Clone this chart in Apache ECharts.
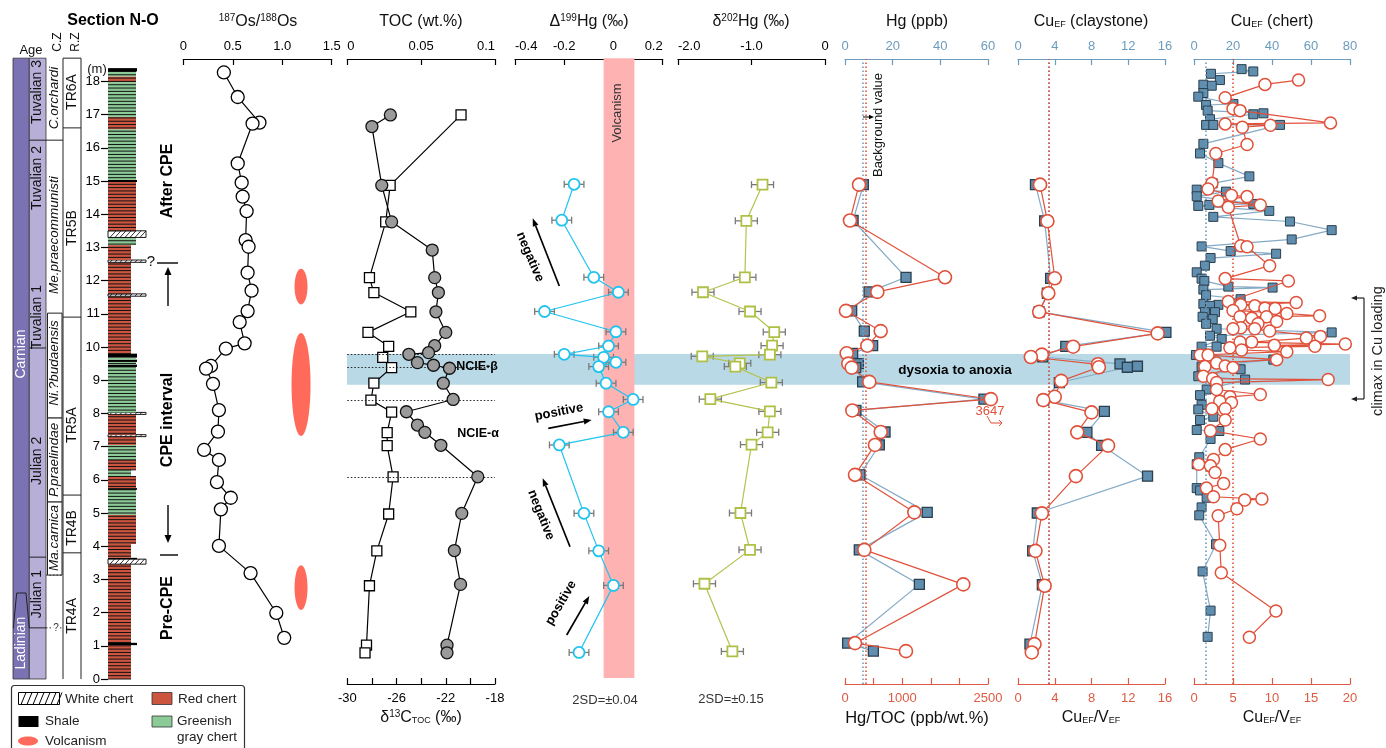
<!DOCTYPE html>
<html>
<head>
<meta charset="utf-8">
<title>Section N-O</title>
<script src="https://cdn.jsdelivr.net/npm/echarts@6/dist/echarts.min.js"></script>
<style>
html,body{margin:0;padding:0;background:#fff;}
#chart{width:1386px;height:748px;}
</style>
</head>
<body>
<div id="chart"></div>
<script>
// ================= DATA =================
// 187Os/188Os
const osDepth = [18.27,17.53,16.76,16.73,15.53,14.95,14.53,14.09,13.22,13.02,12.24,11.70,11.08,10.75,10.11,9.95,9.43,9.35,8.89,8.10,7.45,6.90,6.60,5.93,5.46,5.11,4.01,3.19,1.99,1.24];
const osRatio = [0.41,0.55,0.77,0.70,0.55,0.59,0.60,0.64,0.63,0.66,0.65,0.69,0.65,0.57,0.62,0.43,0.28,0.23,0.30,0.36,0.35,0.21,0.36,0.34,0.48,0.38,0.36,0.68,0.94,1.02];
// volcanism intervals (depth ranges, m) shown in Os panel
const volcanismBase = [11.28, 7.32, 2.08];
const volcanismTop  = [12.36, 10.42, 3.43];
const volcanismOsX  = 1.19;

// delta13C TOC (circles)
const c13Depth = [16.99,16.64,14.87,13.77,12.92,12.09,11.64,11.06,10.44,10.04,9.83,9.78,9.53,9.45,9.36,8.91,8.42,8.05,7.65,7.43,7.04,6.09,4.99,3.87,2.85,1.02,0.79];
const c13Value = [-26.5,-28.0,-27.2,-26.4,-23.1,-22.9,-22.6,-22.8,-22.0,-22.9,-23.4,-25.0,-24.3,-23.0,-21.7,-22.2,-21.4,-25.2,-24.3,-23.7,-22.4,-19.4,-20.7,-21.3,-20.8,-21.9,-21.9];
// TOC wt.% (squares)
const tocDepth = [16.99,14.87,13.77,12.09,11.64,11.06,10.44,10.02,9.69,9.38,8.91,8.40,8.04,7.42,7.03,6.09,4.97,3.86,2.81,1.02,0.79];
const tocValue = [0.077,0.029,0.026,0.015,0.018,0.043,0.014,0.028,0.024,0.030,0.018,0.016,0.030,0.027,0.027,0.031,0.028,0.020,0.015,0.013,0.012];
// NCIE boundaries (dotted lines)
const ncieLines = [9.79, 9.38, 8.40, 6.09];

// Delta199Hg
const d199Depth = [14.90,13.82,12.10,11.65,11.07,10.46,10.03,9.78,9.69,9.54,9.41,8.91,8.42,8.05,7.43,7.05,4.99,3.86,2.82,0.80];
const d199Value = [-0.16,-0.21,-0.08,0.02,-0.28,0.01,-0.02,-0.20,-0.04,0.01,-0.06,-0.03,0.08,-0.02,0.04,-0.22,-0.12,-0.06,0.00,-0.14];
const d199SD = 0.04;
const volcanicHgRange = [-0.04, 0.085];
// delta202Hg
const d202Depth = [14.89,13.80,12.10,11.65,11.07,10.45,10.04,9.77,9.72,9.51,9.41,8.93,8.43,8.06,7.43,7.06,5.00,3.89,2.87,0.83];
const d202Value = [-0.85,-1.07,-1.09,-1.66,-1.02,-0.69,-0.72,-0.75,-1.67,-1.16,-1.22,-0.73,-1.56,-0.75,-0.78,-1.00,-1.15,-1.02,-1.64,-1.26];
const d202SD = 0.15;

// Hg (ppb) and Hg/TOC
const hgDepth    = [14.89,13.81,12.10,11.66,11.09,10.48,10.04,9.81,9.50,9.38,8.95,8.43,8.09,7.44,7.05,6.15,5.02,3.89,2.85,1.08,0.84];
const hgValue    = [7.7,3.4,25.6,10.1,2.8,8.1,11.6,3.2,5.6,4.5,7.4,58.3,4.6,16.8,14.4,6.3,34.5,6.0,31.2,1.1,11.9];
const hgTocValue = [245,87,1748,565,17,624,390,29,58,117,425,3647,128,624,524,175,1212,338,2068,175,1066];
const hgBackground = 7.3, hgTocBackground = 355;
const hgTocBreak = 2550;   // axis break: values above plotted at the break

// Cu EF claystone
const cuClayDepth = [14.89,13.80,12.07,11.62,11.06,10.44,10.02,9.70,9.49,9.42,9.39,8.93,8.40,8.06,7.43,7.04,6.11,5.00,3.86,2.84,1.05];
const cuClayValue = [1.9,2.9,3.55,3.2,2.3,16.1,5.2,2.7,11.1,13.0,11.9,4.5,2.8,9.4,7.5,9.1,14.1,2.1,1.6,2.65,1.3];
const cuvClayDepth = [14.89,13.79,12.07,11.62,11.06,10.41,10.01,9.77,9.70,9.48,9.39,8.98,8.50,8.40,8.03,7.43,7.03,6.11,4.99,3.86,2.81,1.05,0.80];
const cuvClayValue = [2.4,3.2,4.0,3.3,2.3,15.2,6.0,2.6,1.4,8.7,8.8,4.7,4.0,2.75,8.0,6.45,9.8,6.3,2.6,1.9,2.9,1.8,1.5];
const cuClayBackground = 3.4, cuvClayBackground = 3.3;

// Cu EF chert
const cuChertDepth = [18.37,18.30,18.23,18.04,17.90,17.87,17.65,17.54,17.32,17.29,17.12,17.04,17.01,16.86,16.69,16.69,16.69,16.12,15.83,15.54,15.14,14.93,14.74,14.68,14.54,14.31,14.28,14.25,14.10,13.92,13.78,13.52,13.24,13.03,12.89,12.81,12.68,12.45,12.25,12.06,11.99,11.82,11.79,11.73,11.56,11.44,11.30,11.27,11.24,11.05,11.05,10.91,10.84,10.70,10.55,10.44,10.34,10.24,10.01,10.01,9.76,9.62,9.41,9.33,9.12,9.02,8.72,8.55,8.26,8.12,7.90,7.80,7.50,7.47,7.23,6.68,6.47,5.75,5.68,5.46,5.17,4.93,4.06,3.24,2.06,1.27];
const cuChertValue = [24.4,30.4,8.7,13.3,4.8,9.1,4.8,2.2,20.2,6.2,7.0,35.6,30.4,8.2,6.2,9.9,44.1,4.8,3.1,12.5,28.4,9.6,1.4,16.4,1.4,30.4,7.9,2.2,38.6,9.9,49.2,70.6,50.1,3.9,18.8,42.1,8.5,5.6,1.4,3.9,5.3,17.6,40.3,4.8,6.2,23.9,4.8,12.5,8.2,5.6,10.8,4.4,9.6,6.2,11.6,70.6,8.2,14.2,3.9,11.6,1.0,40.7,3.9,23.9,2.2,26.2,6.5,3.1,3.9,2.2,9.9,3.1,1.4,13.0,8.5,2.7,1.4,1.4,3.1,6.5,3.9,2.7,11.3,4.4,8.5,7.0];
const cuvChertDepth = [18.04,17.91,17.51,17.18,17.12,16.75,16.72,16.68,16.62,16.10,15.83,14.93,14.76,14.57,14.53,14.40,14.28,14.21,13.05,13.02,12.45,12.06,11.99,11.37,11.34,11.27,11.24,11.17,11.16,11.10,11.01,10.94,10.91,10.91,10.87,10.77,10.70,10.58,10.55,10.55,10.48,10.32,10.27,10.15,10.15,10.09,10.05,10.02,9.98,9.91,9.86,9.76,9.76,9.62,9.52,9.43,9.41,9.38,9.12,9.05,9.02,8.93,8.72,8.57,8.50,8.37,8.33,8.14,8.14,7.80,7.48,7.23,6.91,6.61,6.47,6.42,6.22,5.89,5.75,5.49,5.42,5.39,5.13,4.92,4.03,3.20,2.05,1.26];
const cuvChertValue = [13.4,9.1,4.0,5.0,5.9,17.5,4.0,9.8,6.2,6.8,2.8,2.3,1.8,4.8,6.8,3.1,8.5,4.4,6.0,6.8,9.7,4.0,12.1,4.4,13.1,6.0,7.8,9.1,10.4,5.0,11.9,16.1,5.9,9.3,7.4,10.6,8.2,6.0,5.0,7.8,9.7,16.2,14.4,7.4,5.9,19.4,10.3,15.5,4.6,6.1,11.9,0.8,1.8,10.6,2.9,4.0,1.4,5.0,1.2,2.4,17.2,2.9,2.9,8.5,4.6,3.3,4.8,4.0,2.3,4.0,2.1,8.5,4.0,2.5,0.6,2.1,2.7,3.8,1.6,2.5,8.7,6.5,5.5,3.1,3.3,3.5,10.5,7.1];
const cuChertBackground = 6.0, cuvChertBackground = 5.0;

// dysoxia-anoxia interval (m)
const anoxiaBand = [8.86, 9.79];

// Lithology (type, base m, top m). R/r red chert (wide/narrow), G/g greenish gray chert, S shale, W white chert
const lithType = ['r','S','r','r','W','S','r','R','G','S','R','g','R','G','R','W','R','W','G','S','G','S','G','S','r','W','r','W','r','G','W','R','S','G','R','G','R','G','S'];
const lithBase = [0,1.02,1.09,3.10,3.46,3.61,3.65,4.07,4.94,5.70,5.75,6.10,6.30,6.60,7.05,7.30,7.36,7.97,8.03,9.40,9.47,9.55,9.62,9.68,9.80,11.53,11.60,12.55,12.62,13.07,13.30,13.50,14.97,15.03,16.56,16.93,17.98,18.15,18.30];
const lithTop  = [1.02,1.09,3.10,3.46,3.61,3.65,4.07,4.94,5.70,5.75,6.10,6.30,6.60,7.05,7.30,7.36,7.97,8.03,9.40,9.47,9.55,9.62,9.68,9.80,11.53,11.60,12.55,12.62,13.07,13.30,13.50,14.97,15.03,16.56,16.93,17.98,18.15,18.30,18.40];
const sectionTop = 18.7;

// Biostratigraphy
const stageNames = ['Carnian','Ladinian'];
const stageMid = [9.79, 1.08];
const substageNames = ['Tuvalian 3','Tuvalian 2','Tuvalian 1','Julian 2','Julian 1'];
const substageMid = [17.68, 15.09, 10.9, 6.57, 2.56];
const substageBounds = [16.23, 9.97, 3.67, 1.54];
const conodontNames = ['C.orchardi','Me.praecommunisti','Ni.?budaensis','P.praelindae','Ma.carnica'];
const conodontMid = [17.5, 13.37, 9.52, 6.6, 4.25];
const conodontBoxBase = [7.86, 5.33, 3.13];
const conodontBoxTop = [11.02, 7.86, 5.33];
const conodontDotted = [3.13, 1.54];
const radiolarianNames = ['TR6A','TR5B','TR5A','TR4B','TR4A'];
const radiolarianMid = [17.68, 13.58, 7.65, 4.55, 1.9];
const radiolarianBounds = [16.6, 10.9, 5.54, 3.8];

// tick labels
const osTicks = ['0','0.5','1.0','1.5'];
const d13cTickLabels = [-30,-26,-22,-18];
const hgTocTickLabels = [0,1000,2500];
const depthTickLabels = [0,1,2,3,4,5,6,7,8,9,10,11,12,13,14,15,16,17,18];

// ================= STYLE / LAYOUT =================
const F = '"Liberation Sans", Arial, Helvetica, sans-serif';
const FN = '"Liberation Sans Narrow", "Liberation Sans", Arial, sans-serif';
const RED_CHERT = '#cc5540', GREEN_CHERT = '#8ccb98', DARK_P = '#7b72b3', LIGHT_P = '#b7afd7';
const BLUE_AX = '#6b9cbd', RED_AX = '#dd5a42';
const SQ_FILL = '#5f8eae', SQ_EDGE = '#2b3f4e', SQ_LINE = '#84aac6';
const RC = '#e0513a';
const GRID_TOP = 59, GRID_H = 625, Y_MIN = -0.15, Y_MAX = 18.675;
const COL_TOP = 81.4, COL_H = 597.6;

const panelGrids = [
  {left:183.3, width:148.4}, // 0 Os
  {left:347.3, width:147.7}, // 1 TOC
  {left:515,   width:147.7}, // 2 D199Hg
  {left:678,   width:147},   // 3 d202Hg
  {left:845,   width:143},   // 4 Hg
  {left:1018,  width:147},   // 5 Cu clay
  {left:1194,  width:156},   // 6 Cu chert
  {left:347,   width:1003}   // 7 band
];
const grid = panelGrids.map(g => ({left:g.left, width:g.width, top:GRID_TOP, height:GRID_H, containLabel:false}));
grid.push({left:13, width:68, top:COL_TOP, height:COL_H});   // 8 zones
grid.push({left:108, width:40, top:COL_TOP, height:COL_H});  // 9 lithology

function xAx(gi, pos, min, max, interval, color, fmt, alignMin, alignMax) {
  const lab = {show:true, color, fontSize:13, fontFamily:F, margin:pos==='top'?6:8, formatter:fmt};
  if (alignMin) lab.alignMinLabel = alignMin;
  if (alignMax) lab.alignMaxLabel = alignMax;
  return {
    gridIndex:gi, type:'value', position:pos, min, max, interval,
    axisLine:{show:true, onZero:false, lineStyle:{color, width:1.2}},
    axisTick:{show:true, inside:true, length:6, lineStyle:{color, width:1.2}},
    axisLabel:lab,
    splitLine:{show:false}
  };
}
const hidX = (gi, min, max) => ({gridIndex:gi, type:'value', min, max, show:false});
const xAxis = [
  xAx(0,'top',0,1.5,0.5,'#000', v => osTicks[Math.round(v/0.5)]),
  xAx(1,'top',0,0.1,0.05,'#000', v => String(+v.toFixed(2)), 'left', 'right'),
  xAx(1,'bottom',-30,-18,2,'#000', v => d13cTickLabels.indexOf(Math.round(v))>=0 ? String(Math.round(v)) : ''),
  xAx(2,'top',-0.4,0.2,0.2,'#000', v => String(+v.toFixed(1)), 'left', 'right'),
  xAx(3,'top',-2,0,1,'#000', v => Math.abs(v)<1e-9 ? '0' : v.toFixed(1), 'left'),
  xAx(4,'top',0,60,20,BLUE_AX, v => String(v)),
  xAx(4,'bottom',0,2500,500,RED_AX, v => hgTocTickLabels.indexOf(Math.round(v))>=0 ? String(Math.round(v)) : ''),
  xAx(5,'top',0,16,4,BLUE_AX, v => String(v)),
  xAx(5,'bottom',0,16,4,RED_AX, v => String(v)),
  xAx(6,'top',0,80,20,BLUE_AX, v => String(v)),
  xAx(6,'bottom',0,20,5,RED_AX, v => String(v)),
  hidX(7,0,1),
  hidX(8,0,68),
  hidX(9,0,40)
];
const yAxis = [];
for (let i = 0; i < 8; i++) yAxis.push({gridIndex:i, type:'value', min:Y_MIN, max:Y_MAX, show:false});
yAxis.push({gridIndex:8, type:'value', min:0, max:18, show:false});
yAxis.push({gridIndex:9, type:'value', min:0, max:18, interval:1,
  axisLine:{show:false, onZero:false}, splitLine:{show:false},
  axisTick:{show:true, length:7, lineStyle:{color:'#000', width:1.2}},
  axisLabel:{show:true, fontSize:13, fontFamily:F, color:'#000', margin:8,
    formatter: v => depthTickLabels.indexOf(Math.round(v))>=0 ? String(Math.round(v)) : ''}
});

const pairs = (xs, ys) => xs.map((v,i) => [v, ys[i]]);
function lineS(xi, yi, data, sym, size, fill, edge, lineColor, z, bw) {
  return {
    type:'line', xAxisIndex:xi, yAxisIndex:yi, data, symbol:sym, symbolSize:size,
    showSymbol:true, showAllSymbol:true, clip:false, silent:true, z, animation:false,
    itemStyle:{color:fill, borderColor:edge, borderWidth:bw||1.3},
    lineStyle:{color:lineColor, width:1.2}, emphasis:{disabled:true}
  };
}
function errBarSeries(xi, yi, data, sd) {
  return {
    type:'custom', xAxisIndex:xi, yAxisIndex:yi, data, z:2, silent:true, animation:false,
    renderItem: (params, api) => {
      const v = api.value(0), m = api.value(1);
      const a = api.coord([v - sd, m]), b = api.coord([v + sd, m]);
      const st = {stroke:'#7a7a7a', lineWidth:1.3};
      return {type:'group', children:[
        {type:'line', shape:{x1:a[0], y1:a[1], x2:b[0], y2:b[1]}, style:st},
        {type:'line', shape:{x1:a[0], y1:a[1]-3.5, x2:a[0], y2:a[1]+3.5}, style:st},
        {type:'line', shape:{x1:b[0], y1:b[1]-3.5, x2:b[0], y2:b[1]+3.5}, style:st}
      ]};
    }
  };
}
function vMark(value, color) {
  return {symbol:'none', silent:true, label:{show:false}, animation:false,
    lineStyle:{type:[1.5,2.5], color, width:1.6}, data:[{xAxis:value}]};
}

// ---- lithology renderer ----
const LITH = {
  R:{fill:RED_CHERT, w:28, stripes:true}, r:{fill:RED_CHERT, w:23, stripes:true},
  G:{fill:GREEN_CHERT, w:28, stripes:true}, g:{fill:GREEN_CHERT, w:23, stripes:true},
  S:{fill:'#000', w:29}, W:{fill:'#fff', w:38, hatch:true}
};
function renderLith(params, api) {
  const i = params.dataIndex, st = LITH[lithType[i]];
  const b = lithBase[i], t = lithTop[i];
  const a = api.coord([0, t]), c = api.coord([st.w, b]);
  const ch = [{type:'rect', shape:{x:a[0], y:a[1], width:c[0]-a[0], height:c[1]-a[1]},
    style:{fill:st.fill, stroke:st.hatch ? '#000' : null, lineWidth:0.9}}];
  if (st.stripes) {
    for (let k = Math.ceil(b*10 - 1e-6); k <= Math.floor(t*10 + 1e-6); k++) {
      const p = api.coord([0, k/10]);
      ch.push({type:'line', shape:{x1:a[0], y1:p[1], x2:c[0], y2:p[1]}, style:{stroke:'#111', lineWidth:1}});
    }
  }
  if (st.hatch) {
    const h = c[1] - a[1];
    for (let x = a[0] + 2; x < c[0] - 2; x += 5) {
      ch.push({type:'line', shape:{x1:x, y1:c[1], x2:Math.min(x + h*0.9, c[0]), y2:a[1]}, style:{stroke:'#000', lineWidth:0.8}});
    }
  }
  return {type:'group', children:ch};
}

// ---- zones renderer ----
function renderZones(params, api) {
  const c = (x, m) => api.coord([x, m]);
  const ch = [];
  const R = (x0, m0, x1, m1, style) => { const a = c(x0, m1), b = c(x1, m0); ch.push({type:'rect', shape:{x:a[0], y:a[1], width:b[0]-a[0], height:b[1]-a[1]}, style}); };
  const L = (x0, m0, x1, m1, style) => { const a = c(x0, m0), b = c(x1, m1); ch.push({type:'line', shape:{x1:a[0], y1:a[1], x2:b[0], y2:b[1]}, style: style || {stroke:'#222', lineWidth:1}}); };
  const T = (x, m, text, o) => { const p = c(x, m); ch.push({type:'text', x:p[0], y:p[1], rotation:Math.PI/2,
      style:Object.assign({text, fill:'#111', fontSize:13, fontFamily:F, align:'center', verticalAlign:'middle'}, o || {})}); };
  const top = sectionTop;
  R(0, 0, 16.3, top, {fill:DARK_P, stroke:'#333', lineWidth:0.8});
  R(16.3, 0, 33, top, {fill:LIGHT_P, stroke:'#333', lineWidth:0.8});
  L(50, 0, 50, top); L(68, 0, 68, top); L(50, top, 68, top);
  // Carnian/Ladinian wedge
  L(0.3, 1.53, 3.7, 2.59); L(3.7, 2.59, 13, 2.59); L(13, 2.59, 16.3, 1.53);
  stageNames.forEach((n, i) => T(8.2, stageMid[i], n, {fill:'#fff', fontSize:14}));
  substageBounds.forEach(m => L(16.3, m, 33, m));
  substageNames.forEach((n, i) => T(24.6, substageMid[i], n, {fontSize:14}));
  L(33, 16.23, 50, 16.23);
  conodontBoxBase.forEach((b, i) => R(34.5, b, 49, conodontBoxTop[i], {fill:'#fff', stroke:'#222', lineWidth:1}));
  conodontDotted.forEach(m => L(33, m, 50, m, {stroke:'#333', lineWidth:1, lineDash:[1.5,2]}));
  conodontNames.forEach((n, i) => T(41.7, conodontMid[i], n, {fontStyle:'italic', fontSize:13.5}));
  { const p = c(43, 1.54); ch.push({type:'text', x:p[0], y:p[1], style:{text:'?', fill:'#333', fontSize:10, fontFamily:F, align:'center', verticalAlign:'middle', backgroundColor:'#fff'}}); }
  radiolarianBounds.forEach(m => L(50, m, 68, m));
  radiolarianNames.forEach((n, i) => T(59, radiolarianMid[i], n, {fontSize:14}));
  return {type:'group', children:ch};
}

// ---- Os volcanism ellipses ----
const volcEllipseW = [13, 19, 13];
function renderVolc(params, api) {
  const i = params.dataIndex;
  const a = api.coord([volcanismOsX, volcanismTop[i]]), b = api.coord([volcanismOsX, volcanismBase[i]]);
  return {type:'ellipse', shape:{cx:a[0], cy:(a[1]+b[1])/2, rx:volcEllipseW[i]/2, ry:(b[1]-a[1])/2}, style:{fill:'#ff6a5a'}};
}

// ================= SERIES =================
const series = [
  // anoxia band
  {type:'custom', xAxisIndex:11, yAxisIndex:7, data:[[anoxiaBand[0], anoxiaBand[1]]], z:0, silent:true, animation:false,
   renderItem:(p, api) => { const a = api.coord([0, api.value(1)]), b = api.coord([1, api.value(0)]);
     return {type:'rect', shape:{x:a[0], y:a[1], width:b[0]-a[0], height:b[1]-a[1]}, style:{fill:'#b8d9e5'}}; }},
  // volcanic Hg band
  {type:'custom', xAxisIndex:3, yAxisIndex:2, data:[[volcanicHgRange[0], volcanicHgRange[1]]], z:1, silent:true, animation:false,
   renderItem:(p, api) => { const a = api.coord([api.value(0), sectionTop]), b = api.coord([api.value(1), 0.03]);
     return {type:'rect', shape:{x:a[0], y:a[1], width:b[0]-a[0], height:b[1]-a[1]}, style:{fill:'#ffb2b2'}}; }},
  // zones & lithology
  {type:'custom', xAxisIndex:12, yAxisIndex:8, data:[[0,0]], z:2, silent:true, animation:false, renderItem:renderZones},
  {type:'custom', xAxisIndex:13, yAxisIndex:9, data:lithBase.map((b,i) => [b, lithTop[i]]), z:2, silent:true, animation:false, renderItem:renderLith},
  // Os
  {type:'custom', xAxisIndex:0, yAxisIndex:0, data:volcanismBase.map((b,i) => [b, volcanismTop[i]]), z:1, silent:true, animation:false, renderItem:renderVolc},
  lineS(0, 0, pairs(osRatio, osDepth), 'circle', 13, '#fff', '#000', '#000', 4),
  // TOC & d13C
  Object.assign(lineS(1, 1, pairs(tocValue, tocDepth), 'rect', 10, '#fff', '#000', '#000', 4),
    {markLine:{symbol:'none', silent:true, label:{show:false}, animation:false,
      lineStyle:{type:[1.5,2], color:'#222', width:1}, data:ncieLines.map(m => ({yAxis:m}))}}),
  lineS(2, 1, pairs(c13Value, c13Depth), 'circle', 12, '#9a9a9a', '#111', '#000', 5),
  // Hg isotopes
  errBarSeries(3, 2, pairs(d199Value, d199Depth), d199SD),
  lineS(3, 2, pairs(d199Value, d199Depth), 'circle', 11, '#fff', '#1fc3ef', '#1fc3ef', 4, 1.8),
  errBarSeries(4, 3, pairs(d202Value, d202Depth), d202SD),
  lineS(4, 3, pairs(d202Value, d202Depth), 'rect', 10, '#fff', '#b0bf45', '#b5c24e', 4, 1.8),
  // Hg
  Object.assign(lineS(5, 4, pairs(hgValue, hgDepth), 'rect', 10, SQ_FILL, SQ_EDGE, SQ_LINE, 4), {markLine:vMark(hgBackground, BLUE_AX)}),
  Object.assign(lineS(6, 4, pairs(hgTocValue.map(v => Math.min(v, hgTocBreak)), hgDepth), 'circle', 13, '#fff', RC, RC, 5, 1.6), {markLine:vMark(hgTocBackground, RC)}),
  // Cu claystone
  Object.assign(lineS(7, 5, pairs(cuClayValue, cuClayDepth), 'rect', 10, SQ_FILL, SQ_EDGE, SQ_LINE, 4), {markLine:vMark(cuClayBackground, BLUE_AX)}),
  Object.assign(lineS(8, 5, pairs(cuvClayValue, cuvClayDepth), 'circle', 13, '#fff', RC, RC, 5, 1.6), {markLine:vMark(cuvClayBackground, RC)}),
  // Cu chert
  Object.assign(lineS(9, 6, pairs(cuChertValue, cuChertDepth), 'rect', 9, SQ_FILL, SQ_EDGE, SQ_LINE, 4, 1), {markLine:vMark(cuChertBackground, BLUE_AX)}),
  Object.assign(lineS(10, 6, pairs(cuvChertValue, cuvChertDepth), 'circle', 12, '#fff', RC, RC, 5, 1.5), {markLine:vMark(cuvChertBackground, RC)})
];

// ================= GRAPHICS (titles, annotations, legend) =================
const G = [];
const SUP = {fontSize:10, fontFamily:F, padding:[0,0,8,0]};
const SUB = {fontSize:9, fontFamily:F, padding:[6,0,0,0]};
function txt(x, y, text, o) {
  o = o || {};
  G.push({type:'text', x, y, rotation:o.rot || 0, z:100, silent:true,
    style:{text, fill:o.color || '#111', fontSize:o.size || 13, fontFamily:o.family || F, fontWeight:o.weight || 'normal',
      align:o.align || 'center', verticalAlign:'middle', rich:o.rich}});
}
function richT(x, y, text, size, color) {
  txt(x, y, text, {size, color, rich:{n:{fontSize:size, fontFamily:F, fill:color||'#111'}, s:Object.assign({}, SUP, {fill:color||'#111'}), b:Object.assign({}, SUB, {fill:color||'#111'})}});
}
function seg(x1, y1, x2, y2, color, lw, dash) {
  G.push({type:'line', z:100, silent:true, shape:{x1, y1, x2, y2}, style:{stroke:color || '#000', lineWidth:lw || 1.5, lineDash:dash}});
}
function arrow(x1, y1, x2, y2, o) {
  o = o || {};
  const ang = Math.atan2(y2 - y1, x2 - x1), L = o.head || 7, W = o.hw || 3;
  const bx = x2 - L*Math.cos(ang), by = y2 - L*Math.sin(ang);
  const px = -Math.sin(ang)*W, py = Math.cos(ang)*W;
  seg(x1, y1, bx, by, o.color, o.lw || 1.6);
  G.push({type:'polygon', z:100, silent:true, shape:{points:[[x2,y2],[bx+px,by+py],[bx-px,by-py]]}, style:{fill:o.color || '#000'}});
}

// headers
txt(113, 21, 'Section N-O', {size:16, weight:'bold', color:'#000'});
txt(31, 50, 'Age', {size:13});
txt(57.5, 42, 'C.Z', {size:12, rot:Math.PI/2});
txt(76, 42, 'R.Z', {size:12, rot:Math.PI/2});
txt(97, 69, '(m)', {size:13});
// panel titles
richT(258, 22, '{s|187}{n|Os/}{s|188}{n|Os}', 16);
richT(421, 22, '{n|TOC (wt.%)}', 16);
richT(589, 22, '{n|Δ}{s|199}{n|Hg (‰)}', 16);
richT(751, 22, '{n|δ}{s|202}{n|Hg (‰)}', 16);
richT(917, 22, '{n|Hg (ppb)}', 16);
richT(1091, 22, '{n|Cu}{b|EF}{n| (claystone)}', 16);
richT(1272, 22, '{n|Cu}{b|EF}{n| (chert)}', 16);
richT(421, 718, '{n|δ}{s|13}{n|C}{b|TOC}{n| (‰)}', 16);
richT(917, 718, '{n|Hg/TOC (ppb/wt.%)}', 16.5);
richT(1091, 718, '{n|Cu}{b|EF}{n|/V}{b|EF}', 16);
richT(1272, 718, '{n|Cu}{b|EF}{n|/V}{b|EF}', 16);
// CPE labels
txt(168, 181, 'After CPE', {size:16, weight:'bold', rot:Math.PI/2, color:'#000'});
txt(168, 420, 'CPE interval', {size:16, weight:'bold', rot:Math.PI/2, color:'#000'});
txt(168, 608, 'Pre-CPE', {size:16, weight:'bold', rot:Math.PI/2, color:'#000'});
arrow(168, 306, 168, 267, {lw:1.4, head:8, hw:3.5});
arrow(168, 505, 168, 543, {lw:1.4, head:8, hw:3.5});
seg(157, 263, 178, 263, '#000', 1.4);
seg(160, 555, 178, 555, '#000', 1.4);
txt(151, 262, '?', {size:15, color:'#111'});
// TOC annotations
txt(477, 367, 'NCIE-β', {size:12.5, weight:'bold', color:'#000'});
txt(478, 434, 'NCIE-α', {size:12.5, weight:'bold', color:'#000'});
// Hg isotope annotations
txt(617, 113, 'Volcanism', {size:13, rot:Math.PI/2, color:'#333'});
arrow(559.3, 286, 532.7, 218.3, {lw:1.7, head:8, hw:3});
txt(530, 257, 'negative', {size:13, weight:'bold', rot:-1.17, color:'#000'});
arrow(548.3, 428.3, 591.7, 420, {lw:1.7, head:8, hw:3});
txt(559, 412, 'positive', {size:13, weight:'bold', rot:0.19, color:'#000'});
arrow(570, 546.7, 542.7, 478.3, {lw:1.7, head:8, hw:3});
txt(541, 515, 'negative', {size:13, weight:'bold', rot:-1.19, color:'#000'});
arrow(566.7, 635, 589.3, 596, {lw:1.7, head:8, hw:3});
txt(561, 603, 'positive', {size:13, weight:'bold', rot:1.04, color:'#000'});
txt(605, 700, '2SD=±0.04', {size:13, color:'#333'});
txt(731, 699, '2SD=±0.15', {size:13, color:'#333'});
// Hg annotations
txt(878, 125, 'Background value', {size:13, family:FN, rot:Math.PI/2, color:'#111'});
arrow(863, 117, 874, 117, {lw:1, head:5, hw:2.2});
txt(990, 411, '3647', {size:13, color:RC});
G.push({type:'polyline', z:100, silent:true, shape:{points:[[987,416],[991,423],[1002,423]]}, style:{stroke:RC, lineWidth:1, fill:null}});
G.push({type:'polyline', z:100, silent:true, shape:{points:[[999,420],[1002,423],[999,426]]}, style:{stroke:RC, lineWidth:1, fill:null}});
txt(955, 370, 'dysoxia to anoxia', {size:13.5, weight:'bold', color:'#000'});
// Cu chert annotation
seg(1364, 298, 1364, 399, '#222', 1.2);
arrow(1364, 298, 1351, 298, {lw:1.2, head:6, hw:2.6, color:'#222'});
arrow(1364, 399, 1351, 399, {lw:1.2, head:6, hw:2.6, color:'#222'});
txt(1378, 351, 'climax in Cu loading', {size:14.5, family:FN, rot:Math.PI/2, color:'#222'});
// legend
G.push({type:'rect', z:99, silent:true, shape:{x:11.5, y:685.5, width:233, height:70, r:3}, style:{fill:'#fff', stroke:'#333', lineWidth:1.2}});
G.push({type:'rect', z:100, silent:true, shape:{x:18.5, y:692.5, width:41, height:12}, style:{fill:'#fff', stroke:'#000', lineWidth:1}});
for (let x = 21; x < 58; x += 6) seg(x, 704.5, x + 5, 692.5, '#000', 1);
txt(65, 699, 'White chert', {size:13.5, align:'left', color:'#222'});
G.push({type:'rect', z:100, silent:true, shape:{x:152, y:692.5, width:20, height:12}, style:{fill:RED_CHERT, stroke:'#333', lineWidth:0.8}});
txt(178, 699, 'Red chert', {size:13.5, align:'left', color:'#222'});
G.push({type:'rect', z:100, silent:true, shape:{x:18.5, y:716, width:20, height:11}, style:{fill:'#000'}});
txt(45, 721, 'Shale', {size:13.5, align:'left', color:'#222'});
G.push({type:'rect', z:100, silent:true, shape:{x:152, y:716, width:20, height:11}, style:{fill:GREEN_CHERT, stroke:'#333', lineWidth:0.8}});
txt(177, 721, 'Greenish', {size:13.5, align:'left', color:'#222'});
txt(177, 737, 'gray chert', {size:13.5, align:'left', color:'#222'});
G.push({type:'ellipse', z:100, silent:true, shape:{cx:28, cy:741, rx:10, ry:4.5}, style:{fill:'#ff6a5a'}});
txt(45, 741, 'Volcanism', {size:13.5, align:'left', color:'#222'});

const option = {
  backgroundColor:'#fff',
  animation:false,
  grid, xAxis, yAxis, series,
  graphic:{elements:G}
};
const chart = echarts.init(document.getElementById('chart'));
chart.setOption(option);
</script>
</body>
</html>
